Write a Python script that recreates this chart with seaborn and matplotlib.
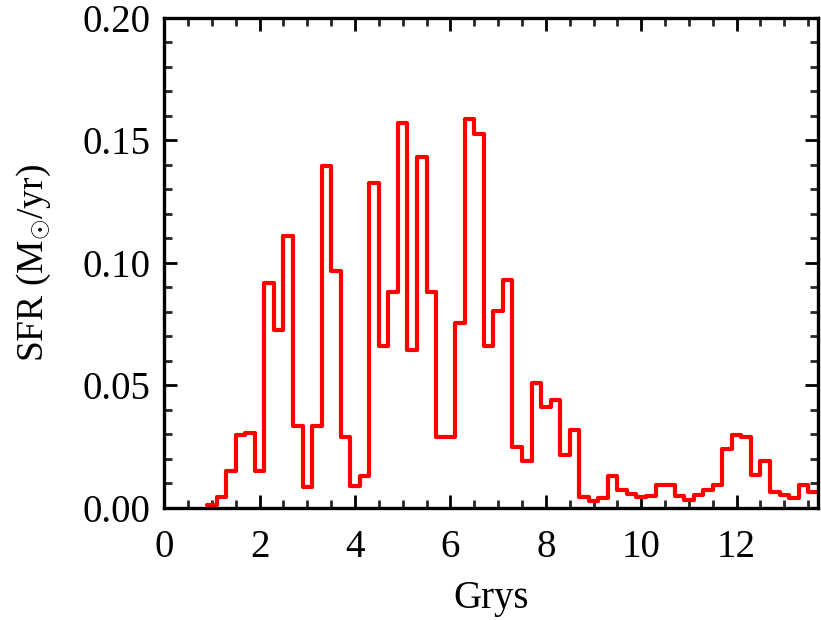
import numpy as np
import pandas as pd
import matplotlib
matplotlib.use("Agg")
import matplotlib.pyplot as plt
import seaborn as sns
from matplotlib.ticker import MultipleLocator

# Bin edges (Gyr) and star formation rate per 0.2 Gyr bin
bin_edges = [round(0.9 + 0.2 * i, 2) for i in range(65)]
bin_centers = [round(1.0 + 0.2 * i, 2) for i in range(64)]
sfr = [0.001, 0.0046, 0.0151, 0.0298, 0.0305, 0.0151, 0.0917, 0.0724,
       0.1108, 0.0332, 0.0083, 0.0332, 0.1394, 0.0965, 0.0291, 0.0087,
       0.0128, 0.1328, 0.0659, 0.0883, 0.1571, 0.0645, 0.1434, 0.0883,
       0.0291, 0.0291, 0.0754, 0.1587, 0.1526, 0.0661, 0.0802, 0.0931,
       0.0250, 0.0189, 0.0509, 0.0411, 0.0441, 0.0216, 0.0318, 0.0046,
       0.0026, 0.0040, 0.0128, 0.0073, 0.0056, 0.0042, 0.0049, 0.0091,
       0.0091, 0.0050, 0.0030, 0.0053, 0.0073, 0.0094, 0.0241, 0.0298,
       0.0291, 0.0135, 0.0192, 0.0063, 0.0053, 0.0040, 0.0091, 0.0064]
x_ticks = [0, 2, 4, 6, 8, 10, 12]
y_ticks = [0.00, 0.05, 0.10, 0.15, 0.20]

df = pd.DataFrame({"age": bin_centers, "sfr": sfr})

sns.set_style("ticks")
plt.rcParams["font.family"] = ["Liberation Serif", "DejaVu Serif"]
plt.rcParams["mathtext.fontset"] = "custom"
plt.rcParams["mathtext.rm"] = "Liberation Serif"
plt.rcParams["mathtext.it"] = "Liberation Serif:italic"
plt.rcParams["mathtext.bf"] = "Liberation Serif:bold"
plt.rcParams["text.color"] = "black"
plt.rcParams["axes.labelcolor"] = "black"

fig = plt.figure(figsize=(8.21, 6.2), dpi=100)
ax = fig.add_axes([0.200, 0.181, 0.796, 0.790])

sns.histplot(data=df, x="age", weights="sfr", bins=bin_edges,
             element="step", fill=False, color="#ff0000", linewidth=3.0,
             ax=ax)

ax.set_xlim(0, 13.7)
ax.set_ylim(0, 0.20)
ax.set_xticks(x_ticks)
ax.set_yticks(y_ticks)
ax.set_xticklabels([str(t) for t in x_ticks])
ax.set_yticklabels([f"{t:.2f}" for t in y_ticks])
ax.xaxis.set_minor_locator(MultipleLocator(0.5))
ax.yaxis.set_minor_locator(MultipleLocator(0.01))

ax.tick_params(axis="both", which="major", direction="in", length=9.5,
               width=2, top=True, right=True, labelsize=28,
               colors="black")
ax.tick_params(axis="x", which="major", pad=15)
ax.tick_params(axis="y", which="major", pad=10)
ax.tick_params(axis="both", which="minor", direction="in", length=5.5,
               width=2, top=True, right=True)
for s in ax.spines.values():
    s.set_linewidth(2.4)
    s.set_color("black")

ax.set_xlabel("Grys", fontsize=28, labelpad=10, color="black")
ax.set_ylabel(r"SFR (M$_{\odot}$/yr)", fontsize=27, labelpad=21,
              color="black")

fig.savefig("out.png", dpi=100)
